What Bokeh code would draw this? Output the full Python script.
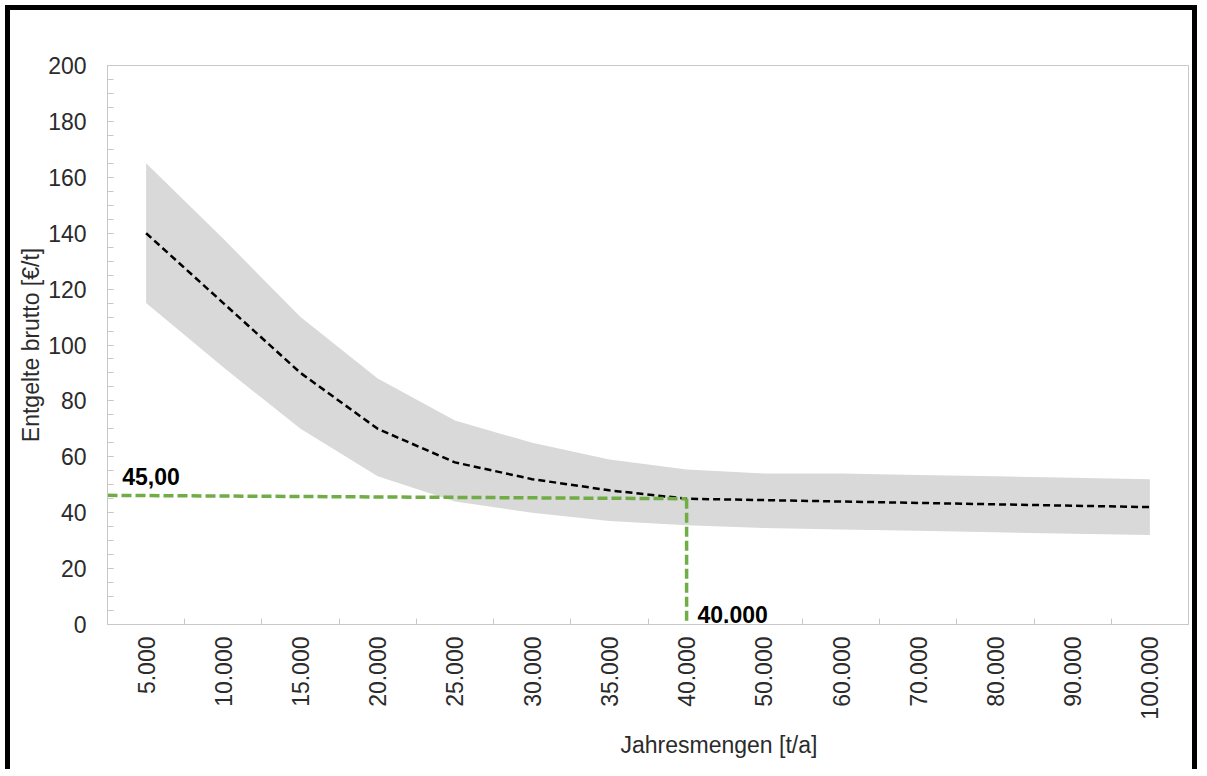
import numpy as np
from bokeh.plotting import figure
from bokeh.models import (Range1d, FixedTicker, SingleIntervalTicker, Label,
                          Title, ColumnDataSource)
from bokeh.embed import file_html
from bokeh.resources import INLINE

# ---- data ----
categories = ["5.000", "10.000", "15.000", "20.000", "25.000", "30.000", "35.000",
              "40.000", "50.000", "60.000", "70.000", "80.000", "90.000", "100.000"]
mean_price = [140, 115, 90, 70, 58, 52, 48, 45, 44.5, 44, 43.5, 43, 42.5, 42]
band_upper = [165, 138, 110, 88, 73, 65, 59, 55.5, 54, 54, 53.5, 53, 52.5, 52]
band_lower = [115, 92, 70, 53, 44, 40, 37, 35.5, 34.5, 34, 33.5, 33, 32.5, 32]

marker_category = "40.000"
marker_price_left = 46.2
marker_price = 45.0
marker_price_label = "45,00"
marker_qty_label = "40.000"

y_ticks_major = 20
y_max = 200

# ---- positions on a numeric axis (category centres) ----
n = len(categories)
xpos = [i + 0.5 for i in range(n)]
mk_x = categories.index(marker_category) + 0.5

src = ColumnDataSource(dict(x=xpos, mean=mean_price, up=band_upper, lo=band_lower))

FONT = "Liberation Sans"
TXT = "#2b2b2b"
AX = "#c8c8c8"
FS = "23px"

p = figure(width=1192, height=764, output_backend="svg", toolbar_location=None,
           x_range=Range1d(0, n), y_range=Range1d(0, y_max),
           min_border_left=97, min_border_right=14, min_border_top=55,
           min_border_bottom=150, background_fill_color="white",
           border_fill_color="white")
p.styles = {"border-left": "5px solid black", "border-top": "5px solid black",
            "border-right": "5px solid black", "margin-left": "5px",
            "margin-top": "5px"}
p.grid.visible = False
p.outline_line_color = AX
p.outline_line_width = 1

# band & mean line
p.varea(x="x", y1="lo", y2="up", source=src, fill_color="#d9d9d9", fill_alpha=1)
p.line(x="x", y="mean", source=src, line_color="black", line_width=2.5,
       line_dash="7 4")

# green marker lines
p.line(x=[0, mk_x], y=[marker_price_left, marker_price], line_color="#70ad47",
       line_width=3.5, line_dash="10 4")
p.line(x=[mk_x, mk_x], y=[marker_price, 0], line_color="#70ad47",
       line_width=3.5, line_dash="10 4")

# annotation labels
p.add_layout(Label(x=0.19, y=50.0, text=marker_price_label, text_font=FONT,
                   text_font_size=FS, text_font_style="bold",
                   text_color="black", text_baseline="bottom"))
p.add_layout(Label(x=mk_x + 0.14, y=0.6, text=marker_qty_label, text_font=FONT,
                   text_font_size=FS, text_font_style="bold",
                   text_color="black", text_baseline="bottom"))

# x axis
xa = p.xaxis[0]
xa.ticker = FixedTicker(ticks=xpos, minor_ticks=list(range(1, n)))
xa.major_label_overrides = {x: c for x, c in zip(xpos, categories)}
xa.major_label_orientation = np.pi / 2
xa.major_tick_line_color = None
xa.major_tick_in = 0
xa.major_tick_out = 0
xa.minor_tick_in = 6
xa.minor_tick_out = 0
xa.minor_tick_line_color = AX
xa.axis_line_color = AX
xa.major_label_standoff = 12
xa.major_label_text_font = FONT
xa.major_label_text_font_size = FS
xa.major_label_text_color = TXT

# x title (offset to the right as in the reference)
p.add_layout(Title(text="Jahresmengen [t/a]", align="left", offset=513,
                   text_font=FONT, text_font_size=FS, text_font_style="normal",
                   text_color=TXT, standoff=14), "below")

# y axis
ya = p.yaxis[0]
ya.ticker = SingleIntervalTicker(interval=y_ticks_major, num_minor_ticks=4)
ya.major_tick_in = 6
ya.major_tick_out = 0
ya.minor_tick_in = 6
ya.minor_tick_out = 0
ya.major_tick_line_color = AX
ya.minor_tick_line_color = AX
ya.axis_line_color = AX
ya.major_label_standoff = 21
ya.major_label_text_font = FONT
ya.major_label_text_font_size = FS
ya.major_label_text_color = TXT
ya.axis_label = "Entgelte brutto [€/t]"
ya.axis_label_text_font = FONT
ya.axis_label_text_font_size = FS
ya.axis_label_text_font_style = "normal"
ya.axis_label_text_color = TXT
ya.axis_label_standoff = 1

open("out.html", "w").write(file_html(p, INLINE))
